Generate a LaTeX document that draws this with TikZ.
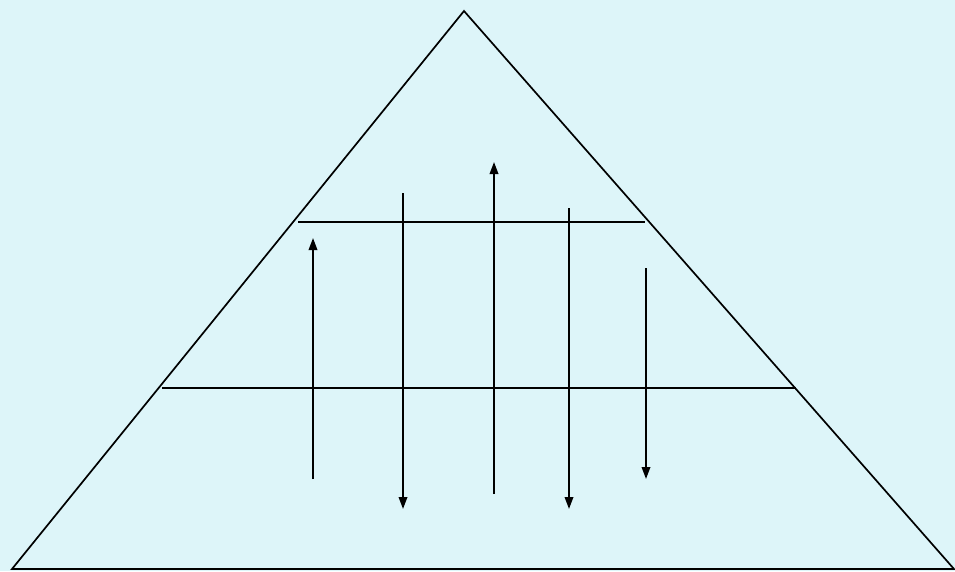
\documentclass[tikz,border=0pt]{standalone}
\usetikzlibrary{arrows.meta}
\definecolor{bgcyan}{RGB}{221,245,249}
\begin{document}
\begin{tikzpicture}[x=1pt,y=-1pt,
  edge/.style={line width=1.7pt,black},
  flow/.style={line width=1.9pt,black,-{Triangle[length=12pt,width=8.5pt]}}]
\fill[bgcyan] (0,0) rectangle (955,571);
\useasboundingbox (0,0) rectangle (955,571);
% triangle
\coordinate (apex) at (464,11);
\coordinate (bl) at (12,569);
\coordinate (br) at (954,569);
\draw[edge,line join=miter] (bl) -- (apex) -- (br) -- cycle;
% horizontal levels
\coordinate (u1) at (298,222); \coordinate (u2) at (645,222);
\coordinate (l1) at (162,388); \coordinate (l2) at (796,388);
\draw[edge] (u1) -- (u2);
\draw[edge] (l1) -- (l2);
% arrows
\coordinate (a1s) at (313,479); \coordinate (a1e) at (313,238);
\coordinate (a2s) at (403,193); \coordinate (a2e) at (403,509);
\coordinate (a3s) at (494,494); \coordinate (a3e) at (494,162);
\coordinate (a4s) at (569,208); \coordinate (a4e) at (569,509);
\coordinate (a5s) at (646,268); \coordinate (a5e) at (646,479);
\draw[flow] (a1s) -- (a1e);
\draw[flow] (a2s) -- (a2e);
\draw[flow] (a3s) -- (a3e);
\draw[flow] (a4s) -- (a4e);
\draw[flow] (a5s) -- (a5e);
\end{tikzpicture}
\end{document}
